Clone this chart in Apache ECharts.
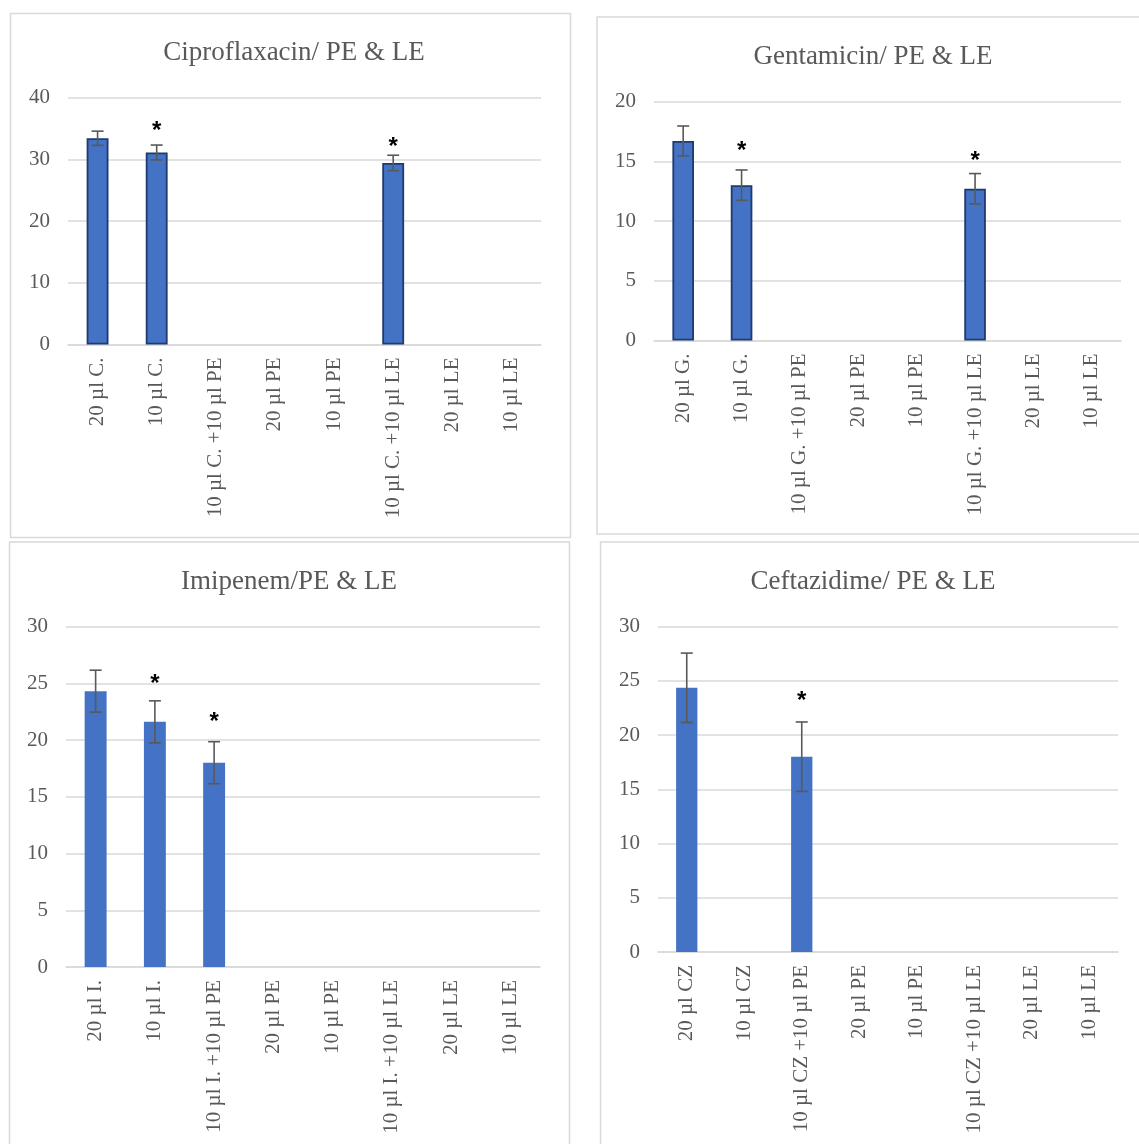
<!DOCTYPE html>
<html>
<head>
<meta charset="utf-8">
<script src="https://cdn.jsdelivr.net/npm/echarts@6/dist/echarts.min.js"></script>
<style>
  html, body { margin: 0; padding: 0; background: #fff; }
  #chart { width: 1139px; height: 1144px; }
</style>
</head>
<body>
<div id="chart"></div>
<script>
// ---- Data: inhibition zone (mm), mean ± error, per antibiotic/extract combination ----
const ciproTitle = 'Ciproflaxacin/ PE & LE';
const ciproCategories = ['20 µl C.', '10 µl C.', '10 µl C. +10 µl PE', '20 µl PE', '10 µl PE', '10 µl C. +10 µl LE', '20 µl LE', '10 µl LE'];
const ciproValues = [33.4, 31.1, null, null, null, 29.4, null, null];
const ciproErrors = [1.15, 1.2, null, null, null, 1.25, null, null];
const ciproStars = [null, 35.3, null, null, null, 32.7, null, null];
const ciproTicks = { max: 40, interval: 10 };

const gentaTitle = 'Gentamicin/ PE & LE';
const gentaCategories = ['20 µl G.', '10 µl G.', '10 µl G. +10 µl PE', '20 µl PE', '10 µl PE', '10 µl G. +10 µl LE', '20 µl LE', '10 µl LE'];
const gentaValues = [16.7, 13.0, null, null, null, 12.7, null, null];
const gentaErrors = [1.25, 1.27, null, null, null, 1.27, null, null];
const gentaStars = [null, 16.25, null, null, null, 15.4, null, null];
const gentaTicks = { max: 20, interval: 5 };

const imiTitle = 'Imipenem/PE & LE';
const imiCategories = ['20 µl I.', '10 µl I.', '10 µl I. +10 µl PE', '20 µl PE', '10 µl PE', '10 µl I. +10 µl LE', '20 µl LE', '10 µl LE'];
const imiValues = [24.3, 21.6, 18.0, null, null, null, null, null];
const imiErrors = [1.85, 1.85, 1.85, null, null, null, null, null];
const imiStars = [null, 25.3, 21.96, null, null, null, null, null];
const imiTicks = { max: 30, interval: 5 };

const ceftTitle = 'Ceftazidime/ PE & LE';
const ceftCategories = ['20 µl CZ', '10 µl CZ', '10 µl CZ +10 µl PE', '20 µl PE', '10 µl PE', '10 µl CZ +10 µl LE', '20 µl LE', '10 µl LE'];
const ceftValues = [24.35, null, 18.0, null, null, null, null, null];
const ceftErrors = [3.2, null, 3.2, null, null, null, null, null];
const ceftStars = [null, null, 23.56, null, null, null, null, null];
const ceftTicks = { max: 30, interval: 5 };

// ---- Panel layout (pixels) ----
const panels = [
  { title: ciproTitle, cats: ciproCategories, vals: ciproValues, errs: ciproErrors, stars: ciproStars, ticks: ciproTicks,
    frame: [10.5, 13.5, 560, 524], grid: [68, 97.5, 473, 247], titleXY: [289, 49], outlined: true },
  { title: gentaTitle, cats: gentaCategories, vals: gentaValues, errs: gentaErrors, stars: gentaStars, ticks: gentaTicks,
    frame: [597, 17, 560, 517], grid: [654, 101.5, 467, 239], titleXY: [868, 53], outlined: true },
  { title: imiTitle, cats: imiCategories, vals: imiValues, errs: imiErrors, stars: imiStars, ticks: imiTicks,
    frame: [9.5, 542, 560, 620], grid: [66, 626.5, 474, 340.5], titleXY: [284, 578], outlined: false },
  { title: ceftTitle, cats: ceftCategories, vals: ceftValues, errs: ceftErrors, stars: ceftStars, ticks: ceftTicks,
    frame: [600.5, 542, 560, 620], grid: [658, 626.5, 460, 325.5], titleXY: [868, 578], outlined: false }
];

const SERIF = '"Liberation Serif", "Times New Roman", serif';
const TEXT_GREY = '#595959';
const LINE_GREY = '#D9D9D9';
const BAR_BLUE = '#4472C4';
const BAR_EDGE = '#1F3A6E';
const ERR_GREY = '#595959';

const grids = [], xAxes = [], yAxes = [], series = [], titles = [], frames = [];

panels.forEach((p, i) => {
  frames.push({
    type: 'rect', silent: true, z: 0,
    shape: { x: p.frame[0], y: p.frame[1], width: p.frame[2], height: p.frame[3] },
    style: { fill: '#fff', stroke: LINE_GREY, lineWidth: 1.5 }
  });
  titles.push({
    text: p.title, left: p.titleXY[0], top: p.titleXY[1] - 15, textAlign: 'center',
    textStyle: { fontFamily: SERIF, fontSize: 27, fontWeight: 'normal', color: TEXT_GREY }
  });
  grids.push({ left: p.grid[0], top: p.grid[1], width: p.grid[2], height: p.grid[3], containLabel: false });
  xAxes.push({
    type: 'category', gridIndex: i, data: p.cats,
    axisLine: { show: true, lineStyle: { color: LINE_GREY, width: 1.5 } },
    axisTick: { show: false },
    axisLabel: { interval: 0, rotate: 90, margin: 13, fontFamily: SERIF, fontSize: 21, color: TEXT_GREY }
  });
  yAxes.push({
    type: 'value', gridIndex: i, min: 0, max: p.ticks.max, interval: p.ticks.interval,
    axisLine: { show: false }, axisTick: { show: false },
    axisLabel: { margin: 18, fontFamily: SERIF, fontSize: 21, color: TEXT_GREY },
    splitLine: { lineStyle: { color: LINE_GREY, width: 1.5 } }
  });
  series.push({
    type: 'bar', xAxisIndex: i, yAxisIndex: i, barWidth: '37%', z: 2,
    data: p.vals,
    itemStyle: p.outlined
      ? { color: BAR_BLUE, borderColor: BAR_EDGE, borderWidth: 1.8 }
      : { color: BAR_BLUE },
    silent: true
  });
  // error bars: vertical whisker with caps at mean ± error
  const errData = [];
  p.vals.forEach((v, k) => { if (v != null && p.errs[k] != null) errData.push([k, v, p.errs[k]]); });
  series.push({
    type: 'custom', xAxisIndex: i, yAxisIndex: i, z: 3, silent: true,
    data: errData,
    renderItem: (params, api) => {
      const x = api.value(0), m = api.value(1), e = api.value(2);
      const hi = api.coord([x, m + e]);
      const lo = api.coord([x, m - e]);
      const half = 6;
      const st = { stroke: ERR_GREY, lineWidth: 1.6 };
      return {
        type: 'group',
        children: [
          { type: 'line', shape: { x1: hi[0], y1: hi[1], x2: lo[0], y2: lo[1] }, style: st },
          { type: 'line', shape: { x1: hi[0] - half, y1: hi[1], x2: hi[0] + half, y2: hi[1] }, style: st },
          { type: 'line', shape: { x1: lo[0] - half, y1: lo[1], x2: lo[0] + half, y2: lo[1] }, style: st }
        ]
      };
    }
  });
  // significance markers
  const starData = [];
  p.stars.forEach((s, k) => { if (s != null) starData.push([k, s]); });
  series.push({
    type: 'custom', xAxisIndex: i, yAxisIndex: i, z: 4, silent: true,
    data: starData,
    renderItem: (params, api) => {
      const pt = api.coord([api.value(0), api.value(1)]);
      return {
        type: 'text',
        x: pt[0], y: pt[1],
        style: {
          text: '*', x: 0, y: 5, align: 'center', verticalAlign: 'middle',
          font: 'bold 24px "Liberation Sans", Arial, sans-serif', fill: '#000'
        }
      };
    }
  });
});

const chart = echarts.init(document.getElementById('chart'), null, { renderer: 'canvas' });
chart.setOption({
  backgroundColor: '#fff',
  animation: false,
  title: titles,
  grid: grids,
  xAxis: xAxes,
  yAxis: yAxes,
  series: series,
  graphic: frames
});
</script>
</body>
</html>
